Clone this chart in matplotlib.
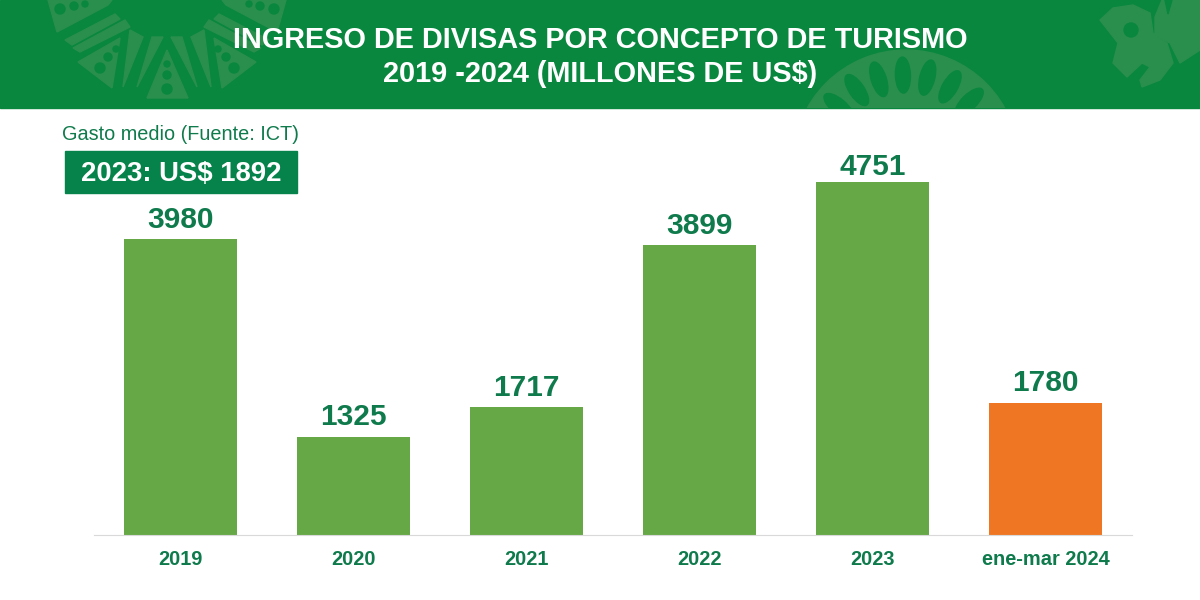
#! /usr/bin/env python
import numpy as np
import matplotlib
matplotlib.use('Agg')
import matplotlib.pyplot as plt
from matplotlib.patches import Circle, Polygon, Rectangle, Ellipse

plt.rcParams['font.family'] = ['Liberation Sans', 'DejaVu Sans']

# values
categories = ['2019', '2020', '2021', '2022', '2023', 'ene-mar 2024']
ingresos = [3980, 1325, 1717, 3899, 4751, 1780]

title = 'INGRESO DE DIVISAS POR CONCEPTO DE TURISMO\n2019 -2024 (MILLONES DE US$)'
note = 'Gasto medio (Fuente: ICT)'
box_text = '2023: US$ 1892'

GREEN_DARK = '#06834a'
GREEN_HEAD = '#09873f'
GREEN_ORNA = '#2a8f4c'
GREEN_BAR = '#66a846'
ORANGE = '#ef7723'
TEXT_GREEN = '#0f7b4c'

# left half of the sun ornament in pixels, mirrored around x = 167
SUN_SHAPES = [
    [(78, 62), (120, 38), (112, 88)],
    [(130, 30), (143, 37), (123, 87)],
    [(152, 37), (163, 37), (137, 87)],
    [(65, 40), (115, 14), (120, 19), (72, 45)],
    [(73, 48), (125, 20), (130, 27), (80, 52)],
    [(48, 0), (112, 0), (108, 5), (57, 32)],
]
SUN_DOTS = [(100, 68, 5), (108, 57, 4), (116, 49, 3), (60, 9, 5), (74, 6, 4), (85, 4, 3)]
FIGURE_SHAPE = [(1100, 20), (1113, 8), (1133, 5), (1150, 13), (1153, 33), (1167, 43), (1173, 63),
                (1160, 80), (1142, 87), (1140, 80), (1150, 67), (1142, 63), (1127, 77),
                (1113, 63), (1118, 43)]
CORNER_SHAPE = [(1162, 0), (1200, 0), (1200, 50), (1180, 63), (1170, 43), (1155, 35), (1155, 17)]


def add_clipped(bg, patch, band):
    bg.add_patch(patch)
    patch.set_clip_path(band)


def draw_header(bg):
    """Header band with its pale ornaments, bg axes is in pixels."""
    band = Rectangle((0, 0), 1200, 107.5, color=GREEN_HEAD, zorder=1)
    bg.add_patch(band)

    # sun on the left
    add_clipped(bg, Polygon([(167, 50), (147, 98), (188, 98)], color=GREEN_ORNA, zorder=2), band)
    for pts in SUN_SHAPES:
        add_clipped(bg, Polygon(pts, color=GREEN_ORNA, zorder=2), band)
        add_clipped(bg, Polygon([(334 - px, py) for px, py in pts], color=GREEN_ORNA, zorder=2), band)
    for px, py, r in SUN_DOTS:
        add_clipped(bg, Circle((px, py), r, color=GREEN_HEAD, zorder=3), band)
        add_clipped(bg, Circle((334 - px, py), r, color=GREEN_HEAD, zorder=3), band)
    for py, r in [(64, 3), (75, 4), (89, 5)]:
        add_clipped(bg, Circle((167, py), r, color=GREEN_HEAD, zorder=3), band)

    # disc with leaves under the title
    add_clipped(bg, Circle((906, 163), 113, color=GREEN_ORNA, zorder=2), band)
    for ang in np.arange(220, 320, 16):
        a = np.radians(ang)
        leaf = Ellipse((906 + 88 * np.cos(a), 163 + 88 * np.sin(a)), 36, 15, angle=ang,
                       color=GREEN_HEAD, zorder=3)
        add_clipped(bg, leaf, band)

    # figure in the corner
    add_clipped(bg, Polygon(FIGURE_SHAPE, color=GREEN_ORNA, zorder=2), band)
    add_clipped(bg, Polygon(CORNER_SHAPE, color=GREEN_ORNA, zorder=2), band)
    bg.add_patch(Circle((1131, 30), 7, color=GREEN_HEAD, zorder=3))
    bg.add_patch(Polygon([(1165, 0), (1172, 0), (1168, 14)], color=GREEN_HEAD, zorder=3))


def main():
    fig = plt.figure(figsize=(12, 6), dpi=100, facecolor='white')

    # pixel overlay for the header and the text box
    bg = fig.add_axes([0, 0, 1, 1])
    bg.set_xlim(0, 1200)
    bg.set_ylim(600, 0)
    bg.axis('off')
    draw_header(bg)
    bg.text(600, 57, title, color='white', fontsize=20.8, fontweight='bold',
            ha='center', va='center', linespacing=1.3, zorder=5)
    bg.text(62, 134, note, color=TEXT_GREEN, fontsize=14.3, ha='left', va='center', zorder=5)
    bg.add_patch(Rectangle((65, 151), 232, 42, color=GREEN_DARK, zorder=4))
    bg.text(181, 174.5, box_text, color='white', fontsize=19.8, fontweight='bold',
            ha='center', va='center', zorder=5)

    ax = fig.add_axes([94 / 1200, 65 / 600, 1038 / 1200, 427 / 600])
    ax.patch.set_alpha(0)
    x = np.arange(len(categories))
    colors = [GREEN_BAR] * 5 + [ORANGE]
    bars = ax.bar(x, ingresos, width=0.656, color=colors)
    ax.set_xlim(-0.5, 5.5)
    ax.set_ylim(0, 5747)
    # the 2023 label sits closer to its bar
    for i, bar in enumerate(bars):
        ax.annotate(str(ingresos[i]), (x[i], ingresos[i]), xytext=(0, 0.4 if i == 4 else 4),
                    textcoords='offset points', ha='center', va='bottom', color=TEXT_GREEN,
                    fontsize=21.5, fontweight='bold')

    ax.set_xticks(x)
    ax.set_xticklabels(categories, fontsize=14.4, fontweight='bold', color=TEXT_GREEN)
    ax.tick_params(axis='x', length=0, pad=11)
    ax.set_yticks([])
    for side in ['top', 'left', 'right']:
        ax.spines[side].set_visible(False)
    ax.spines['bottom'].set_color('#d9d9d9')

    fig.savefig('out.png', dpi=100)


if __name__ == "__main__":
    main()
